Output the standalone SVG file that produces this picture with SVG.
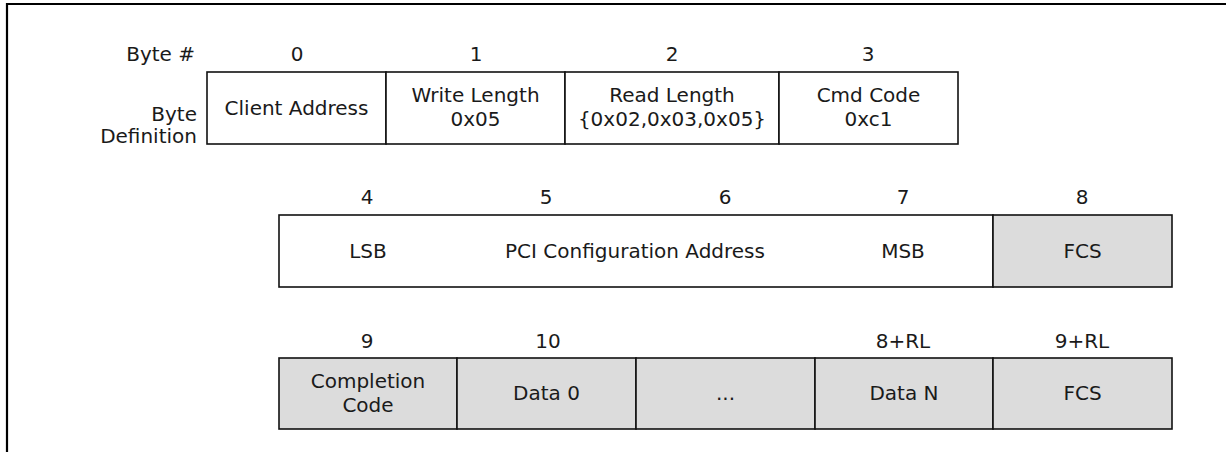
<svg xmlns="http://www.w3.org/2000/svg" width="1226" height="452" viewBox="0 0 1226 452">
<style>
text{font-family:"DejaVu Sans","Liberation Sans",sans-serif;font-size:20px;fill:#1a1a1a;text-anchor:middle}
.r{text-anchor:end}
.w{fill:#ffffff;stroke:#111;stroke-width:1.6}
.g{fill:#dcdcdc;stroke:#111;stroke-width:1.6}
.frame{stroke:#000;stroke-width:2.2;fill:none}
</style>
<rect width="1226" height="452" fill="#fff"/>
<g id="frame"><path class="frame" d="M7,452 V4 H1226"/></g>
<g id="labels">
<text class="r" x="195" y="61">Byte #</text>
<text class="r" x="197" y="121">Byte</text>
<text class="r" x="197" y="143">Definition</text>
</g>
<g id="row1-numbers">
<text x="297" y="61">0</text>
<text x="476" y="61">1</text>
<text x="672" y="61">2</text>
<text x="868" y="61">3</text>
</g>
<g id="byte0"><rect class="w" x="207" y="72" width="179" height="72"/><text x="296.5" y="114.5">Client Address</text></g>
<g id="byte1"><rect class="w" x="386" y="72" width="179" height="72"/><text x="475.5" y="102">Write Length</text><text x="475.5" y="126">0x05</text></g>
<g id="byte2"><rect class="w" x="565" y="72" width="214" height="72"/><text x="672" y="102">Read Length</text><text x="672" y="126">{0x02,0x03,0x05}</text></g>
<g id="byte3"><rect class="w" x="779" y="72" width="179" height="72"/><text x="868.5" y="102">Cmd Code</text><text x="868.5" y="126">0xc1</text></g>
<g id="row2-numbers">
<text x="367" y="204">4</text>
<text x="546" y="204">5</text>
<text x="725" y="204">6</text>
<text x="903" y="204">7</text>
<text x="1082" y="204">8</text>
</g>
<g id="pci-address"><rect class="w" x="279" y="215" width="714" height="72"/><text x="368" y="257.5">LSB</text><text x="635" y="257.5">PCI Configuration Address</text><text x="903" y="257.5">MSB</text></g>
<g id="fcs1"><rect class="g" x="993" y="215" width="179" height="72"/><text x="1082.5" y="257.5">FCS</text></g>
<g id="row3-numbers">
<text x="367" y="348">9</text>
<text x="548" y="348">10</text>
<text x="903" y="348">8+RL</text>
<text x="1082" y="348">9+RL</text>
</g>
<g id="completion"><rect class="g" x="279" y="358" width="178" height="71"/><text x="368" y="387.5">Completion</text><text x="368" y="411.5">Code</text></g>
<g id="data0"><rect class="g" x="457" y="358" width="179" height="71"/><text x="546.5" y="400">Data 0</text></g>
<g id="ellipsis"><rect class="g" x="636" y="358" width="179" height="71"/><text x="725.5" y="400">...</text></g>
<g id="dataN"><rect class="g" x="815" y="358" width="178" height="71"/><text x="904" y="400">Data N</text></g>
<g id="fcs2"><rect class="g" x="993" y="358" width="179" height="71"/><text x="1082.5" y="400">FCS</text></g>
<g id="connectors"></g>
</svg>
